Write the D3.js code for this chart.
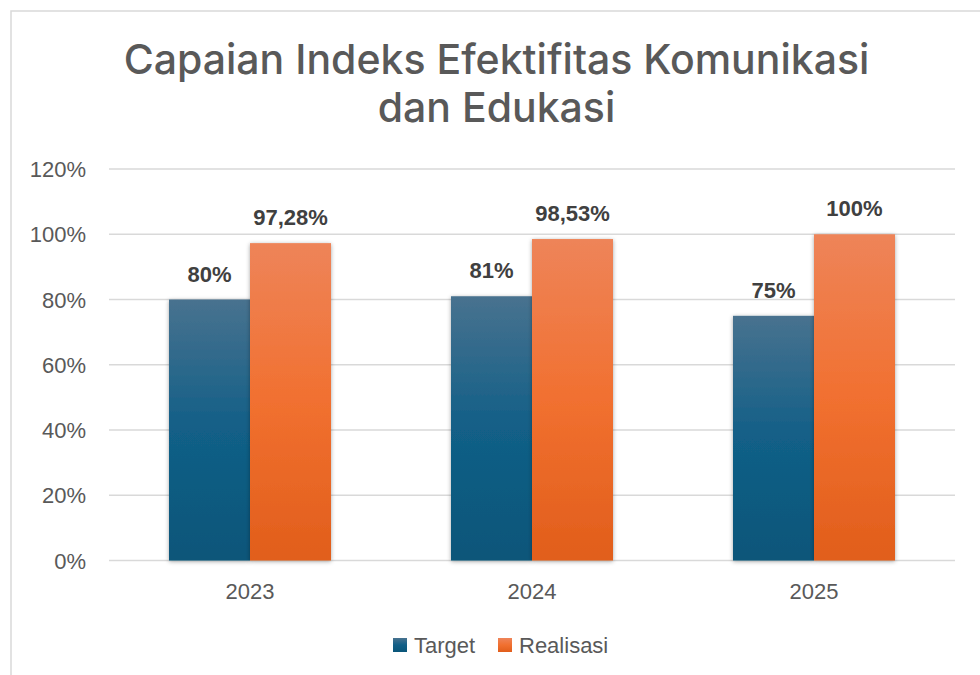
<!DOCTYPE html>
<html><head><meta charset="utf-8">
<script src="https://cdn.jsdelivr.net/npm/d3@7"></script>
<style>body{margin:0;background:#fff}svg{display:block}</style>
</head><body>
<svg id="c" width="980" height="675"></svg>
<script>
const categories = ["2023", "2024", "2025"];
const seriesNames = ["Target", "Realisasi"];
const target = [80, 81, 75];
const realisasi = [97.28, 98.53, 100];
const labelsTarget = ["80%", "81%", "75%"];
const labelsRealisasi = ["97,28%", "98,53%", "100%"];
const yTicks = [0, 20, 40, 60, 80, 100, 120];
const titleLines = ["Capaian Indeks Efektifitas Komunikasi", "dan Edukasi"];

(function(){
const svg = d3.select("#c");
const defs = svg.append("defs");
function grad(id, c1, c2, c3){
  const g = defs.append("linearGradient").attr("id", id).attr("x1",0).attr("y1",0).attr("x2",0).attr("y2",1);
  g.append("stop").attr("offset","0%").attr("stop-color",c1);
  g.append("stop").attr("offset","50%").attr("stop-color",c2);
  g.append("stop").attr("offset","100%").attr("stop-color",c3);
}
grad("gT", "#48728f", "#125f87", "#0a5679");
grad("gR", "#ee8459", "#f17030", "#e15e1b");
const f = defs.append("filter").attr("id","sh").attr("x","-20%").attr("y","-10%").attr("width","140%").attr("height","125%");
f.append("feDropShadow").attr("dx",0).attr("dy",1).attr("stdDeviation",2).attr("flood-color","#000").attr("flood-opacity",0.35);

svg.append("rect").attr("x",11).attr("y",11).attr("width",990).attr("height",700)
  .attr("fill","#fff").attr("stroke","#d9d9d9").attr("stroke-width",1.5);

svg.append("text").attr("text-anchor","middle").attr("fill","#595959")
  .style("font-family","Inter, 'Open Sans', sans-serif").style("font-size","41px").style("font-weight","500")
  .selectAll("tspan").data(titleLines).join("tspan")
  .attr("x",496.5).attr("y",(d,i)=>74+i*48).text(d=>d);

const pl = 109, pr = 955, pt = 169, pb = 560.5;
const x = d3.scaleBand().domain(categories).range([pl,pr]);
const x1 = d3.scaleBand().domain(seriesNames).range([0, 162]);
const barOff = (x.bandwidth()-162)/2;
const y = d3.scaleLinear().domain([0,120]).range([pb, pt]);

const font = "'Liberation Sans', Arial, sans-serif";
svg.append("g").selectAll("line").data(yTicks).join("line")
  .attr("x1",pl).attr("x2",pr).attr("y1",d=>y(d)).attr("y2",d=>y(d))
  .attr("stroke","#d9d9d9").attr("stroke-width",1.5);

const yAxis = d3.axisLeft(y).tickValues(yTicks).tickFormat(d=>d+"%").tickSize(0).tickPadding(0);
const ya = svg.append("g").attr("transform",`translate(86,0)`).call(yAxis);
ya.select(".domain").remove();
ya.selectAll("text").attr("fill","#595959").style("font-family",font).style("font-size","22px").attr("dy","0.35em");

const xAxis = d3.axisBottom(x).tickSize(0).tickPadding(0);
const xa = svg.append("g").attr("transform",`translate(0,599)`).call(xAxis);
xa.select(".domain").remove();
xa.selectAll("text").attr("fill","#595959").style("font-family",font).style("font-size","22px").attr("y",0).attr("dy","0");

const data = categories.map((c,i)=>({c, vals:[
  {s:"Target", v:target[i], lab:labelsTarget[i], fill:"url(#gT)"},
  {s:"Realisasi", v:realisasi[i], lab:labelsRealisasi[i], fill:"url(#gR)"}]}));
const gs = svg.append("g").selectAll("g").data(data).join("g")
  .attr("transform",d=>`translate(${x(d.c)+barOff},0)`);
gs.selectAll("rect").data(d=>d.vals).join("rect")
  .attr("x",d=>x1(d.s)).attr("width",x1.bandwidth())
  .attr("y",d=>y(d.v)).attr("height",d=>pb-y(d.v))
  .attr("fill",d=>d.fill).attr("filter","url(#sh)");
gs.selectAll("text").data(d=>d.vals).join("text")
  .attr("x",d=>x1(d.s)+x1.bandwidth()/2).attr("y",d=>y(d.v)-18)
  .attr("text-anchor","middle").attr("fill","#404040")
  .style("font-family",font).style("font-size","22px").style("font-weight","bold")
  .text(d=>d.lab);

const legX = [393, 498];
const lg = svg.append("g").selectAll("g").data(seriesNames).join("g")
  .attr("transform",(d,i)=>`translate(${legX[i]},638)`);
lg.append("rect").attr("width",14).attr("height",14).attr("fill",(d,i)=>i?"url(#gR)":"url(#gT)");
lg.append("text").attr("x",21).attr("y",7).attr("dy","0.35em").attr("fill","#595959")
  .style("font-family",font).style("font-size","22px").text(d=>d);
})();
</script>
</body></html>
